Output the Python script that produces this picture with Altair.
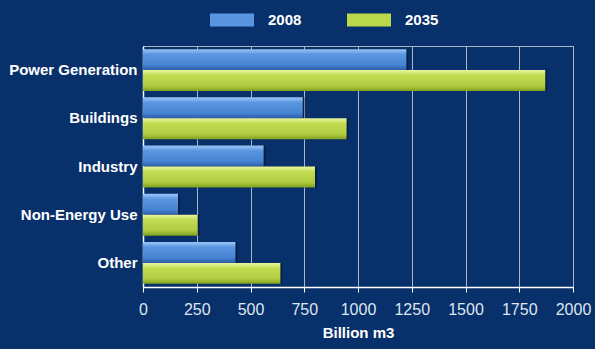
import altair as alt
import pandas as pd

categories = ["Power Generation", "Buildings", "Industry", "Non-Energy Use", "Other"]
series = ["2008", "2035"]
values_2008 = [1225, 743, 561, 163, 430]
values_2035 = [1871, 947, 800, 253, 639]

rows = []
for c, a, b in zip(categories, values_2008, values_2035):
    rows.append({"category": c, "series": "2008", "value": a})
    rows.append({"category": c, "series": "2035", "value": b})
df = pd.DataFrame(rows)

FONT = "Liberation Sans, Arial, sans-serif"
BG = "#08306a"

blue_grad = alt.Gradient(
    gradient="linear", x1=0, x2=0, y1=0, y2=1,
    stops=[alt.GradientStop(color="#9cc8f8", offset=0),
           alt.GradientStop(color="#5a96e0", offset=0.25),
           alt.GradientStop(color="#4684d4", offset=0.75),
           alt.GradientStop(color="#2d5ca6", offset=1)])
green_grad = alt.Gradient(
    gradient="linear", x1=0, x2=0, y1=0, y2=1,
    stops=[alt.GradientStop(color="#eaf6a0", offset=0),
           alt.GradientStop(color="#c2dc52", offset=0.25),
           alt.GradientStop(color="#b0cc40", offset=0.75),
           alt.GradientStop(color="#80a020", offset=1)])

y_enc = alt.Y("category:N", sort=categories, title=None,
              scale=alt.Scale(paddingInner=0.13, paddingOuter=0.065),
              axis=alt.Axis(labelFontSize=15, labelFont=FONT, labelFontWeight="bold",
                            labelColor="white", ticks=False, labelPadding=6,
                            domainColor="white", domainWidth=1.5))
x_enc = alt.X("value:Q", title="Billion m3",
              scale=alt.Scale(domain=[0, 2000], nice=False),
              axis=alt.Axis(values=list(range(0, 2001, 250)), format="d", labelFontSize=16,
                            labelFont=FONT, labelColor="#dfe6f0", tickColor="white",
                            tickSize=5, domainColor="white", domainWidth=1.5,
                            gridColor="#a9b6c9", gridWidth=1, labelPadding=9,
                            titleFont=FONT, titleFontSize=15, titleFontWeight="bold",
                            titleColor="white", titlePadding=8, labelFlush=False))
yoff = alt.YOffset("series:N", sort=series)

shadow = alt.Chart(df).mark_bar(color="black", opacity=0.35, xOffset=2, yOffset=2).encode(
    x=x_enc, y=y_enc, yOffset=yoff,
)

legend_layer = alt.Chart(df).mark_bar().encode(
    x=alt.value(0), x2=alt.value(0), y=y_enc, yOffset=yoff,
    color=alt.Color("series:N", sort=series,
                    scale=alt.Scale(domain=series, range=["#5a94e0", "#bcd84c"]),
                    legend=alt.Legend(title=None, orient="none", legendX=67, legendY=-48,
                                      direction="horizontal",
                                      symbolType="M-1,-0.3L1,-0.3L1,0.3L-1,0.3Z",
                                      symbolSize=1936, symbolStrokeWidth=0,
                                      symbolOpacity=1,
                                      labelFont=FONT, labelFontSize=15,
                                      labelFontWeight="bold", labelColor="white",
                                      labelOffset=14, columnPadding=45)),
)

bars = alt.Chart(df).mark_bar().encode(
    x=x_enc, y=y_enc, yOffset=yoff,
    fill=alt.condition("datum.series == '2008'", alt.value(blue_grad), alt.value(green_grad)),
)

chart = (shadow + legend_layer + bars).properties(
    width=430, height=241,
    autosize=alt.AutoSizeParams(type="none"),
    padding={"left": 143, "top": 46, "right": 22, "bottom": 62},
    background=BG,
).configure_view(stroke="#a9b6c9", strokeWidth=1)

chart.save("out.html", embed_options={"renderer": "svg", "actions": False})
